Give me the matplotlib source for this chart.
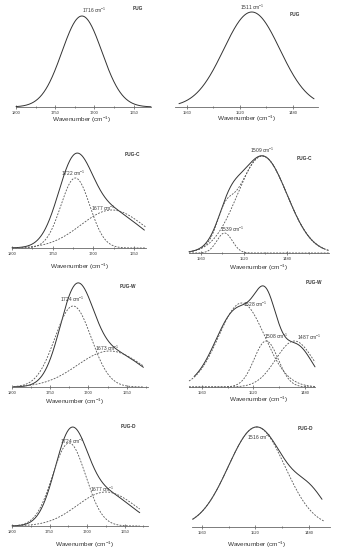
import numpy as np
import matplotlib
matplotlib.use('Agg')
import matplotlib.pyplot as plt
from matplotlib.ticker import MultipleLocator, FixedLocator

plt.rcParams['font.family'] = ['Liberation Sans', 'DejaVu Sans']
plt.rcParams['mathtext.fontset'] = 'custom'
plt.rcParams['mathtext.rm'] = 'Liberation Sans'
plt.rcParams['mathtext.it'] = 'Liberation Sans:italic'
plt.rcParams['mathtext.bf'] = 'Liberation Sans:bold'

W, H = 337, 550

# ---------------- data (bands: centre cm-1, FWHM cm-1, height a.u.) ----------------
sample_names = ['PUG', 'PUG', 'PUG-C', 'PUG-C', 'PUG-W', 'PUG-W', 'PUG-D', 'PUG-D']

# measured traces (solid lines) described by their band shapes and their spectral extent
pug_co_spectrum = [(1716, 60, 91)]
pug_co_range = (1800, 1628)
pug_nh_spectrum = [(1511, 50, 95)]
pug_nh_range = (1566, 1464)

pugc_co_spectrum = [(1723, 48, 76), (1680, 84, 37)]
pugc_co_range = (1800, 1637)
pugc_nh_spectrum = [(1503, 54, 97), (1534, 24, 24)]
pugc_nh_range = (1571, 1446)

pugw_co_spectrum = [(1716, 50, 88), (1668, 90, 34)]
pugw_co_range = (1798, 1628)
pugw_nh_spectrum = [(1532, 40, 78), (1510, 20, 60), (1486, 28, 40)]
pugw_nh_range = (1566, 1472)

pugd_co_spectrum = [(1722, 50, 86), (1675, 80, 32)]
pugd_co_range = (1800, 1630)
pugd_nh_spectrum = [(1519, 50, 100), (1478, 28, 26)]
pugd_nh_range = (1567, 1470)

# fitted components (dashed lines)
pug_co_fit = []
pug_nh_fit = []
pugc_co_fit = [(1722, 42, 70), (1677, 90, 38)]
pugc_nh_fit = [(1538, 17, 20), (1503, 54, 97)]
pugw_co_fit = [(1720, 56, 81), (1672, 100, 36)]
pugw_nh_fit = [(1529, 42, 84), (1510, 22, 46), (1488, 34, 46)]
pugd_co_fit = [(1724, 52, 83), (1675, 90, 34)]
pugd_nh_fit = [(1519, 50, 100)]

# labelled band positions (cm-1)
pug_co_labels = [1716]
pug_nh_labels = [1511]
pugc_co_labels = [1722, 1677]
pugc_nh_labels = [1509, 1539]
pugw_co_labels = [1724, 1673]
pugw_nh_labels = [1528, 1508, 1487]
pugd_co_labels = [1724, 1677]
pugd_nh_labels = [1516]

# ---------------- layout (pixels) ----------------
layout = [
    dict(x0=16, x1=151, yb=107, xlim=(1800, 1628), fit_range=None),
    dict(x0=175, x1=318, yb=107, xlim=(1569, 1461), fit_range=None),
    dict(x0=12, x1=146, yb=248, xlim=(1800, 1635), fit_range=(1800, 1635)),
    dict(x0=189, x1=329, yb=253, xlim=(1571, 1441), fit_range=(1571, 1441)),
    dict(x0=12, x1=148, yb=387, xlim=(1800, 1622), fit_range=(1798, 1628)),
    dict(x0=189, x1=315, yb=387, xlim=(1570, 1472), fit_range=(1570, 1472)),
    dict(x0=12, x1=148, yb=526, xlim=(1800, 1619), fit_range=(1800, 1630)),
    dict(x0=192, x1=330, yb=527, xlim=(1567.5, 1464), fit_range=(1567, 1468)),
]
name_pos = [(138, 8), (295, 14), (132, 154), (304, 159), (128, 286), (314, 282), (128, 427), (305, 429)]
label_pos = [
    [(94, 10)],
    [(252, 7)],
    [(73, 173), (103, 208)],
    [(262, 150), (232, 229)],
    [(72, 299), (107, 348)],
    [(255, 304), (276, 336), (309, 337)],
    [(72, 441), (102, 489)],
    [(259, 437)],
]
xlabel_pos = [(82, 120), (247, 119), (80, 267), (259, 268), (75, 402), (259, 400), (85, 545), (257, 545)]

spectra = [pug_co_spectrum, pug_nh_spectrum, pugc_co_spectrum, pugc_nh_spectrum,
           pugw_co_spectrum, pugw_nh_spectrum, pugd_co_spectrum, pugd_nh_spectrum]
ranges = [pug_co_range, pug_nh_range, pugc_co_range, pugc_nh_range,
          pugw_co_range, pugw_nh_range, pugd_co_range, pugd_nh_range]
fits = [pug_co_fit, pug_nh_fit, pugc_co_fit, pugc_nh_fit,
        pugw_co_fit, pugw_nh_fit, pugd_co_fit, pugd_nh_fit]
labels = [pug_co_labels, pug_nh_labels, pugc_co_labels, pugc_nh_labels,
          pugw_co_labels, pugw_nh_labels, pugd_co_labels, pugd_nh_labels]
envelope = [False, False, False, True, False, False, False, False]


def band(x, c, w, h):
    return h * np.exp(-4 * np.log(2) * (x - c) ** 2 / w ** 2)


def profile(x, bands):
    y = np.zeros_like(x)
    for c, w, h in bands:
        y += band(x, c, w, h)
    return y


AXH = 105
LINE = '#333333'
DASH = '#555555'
TXT = '#333333'

fig = plt.figure(figsize=(W / 100, H / 100), dpi=100)
fig.patch.set_facecolor('white')

for i in range(8):
    L = layout[i]
    ax = fig.add_axes([L['x0'] / W, 1 - L['yb'] / H, (L['x1'] - L['x0']) / W, AXH / H])
    ax.set_xlim(*L['xlim'])
    ax.set_ylim(0, AXH)
    for s in ['left', 'right', 'top']:
        ax.spines[s].set_visible(False)
    ax.spines['bottom'].set_color('#666666')
    ax.spines['bottom'].set_linewidth(0.6)
    ax.set_yticks([])
    ax.patch.set_alpha(0)
    if i % 2 == 0:
        ax.xaxis.set_major_locator(FixedLocator([1800, 1750, 1700, 1650]))
        ax.xaxis.set_minor_locator(MultipleLocator(25))
    else:
        ax.xaxis.set_major_locator(FixedLocator([1560, 1520, 1480]))
        ax.xaxis.set_minor_locator(MultipleLocator(20))
    ax.tick_params(axis='x', which='major', direction='inout', length=2.5, width=0.5,
                   colors='#555555', labelsize=2.9, pad=1.5, labelcolor=TXT)
    ax.tick_params(axis='x', which='minor', direction='inout', length=2.0, width=0.5,
                   colors='#555555')

    xs = np.linspace(ranges[i][0], ranges[i][1], 400)
    ax.plot(xs, profile(xs, spectra[i]), color=LINE, lw=0.7, solid_capstyle='round', clip_on=False)

    if fits[i]:
        fr = L['fit_range']
        xf = np.linspace(fr[0], fr[1], 400)
        for b in fits[i]:
            ax.plot(xf, band(xf, *b), color=DASH, lw=0.6, ls=(0, (2.2, 1.6)), clip_on=False)
        if envelope[i]:
            ax.plot(xf, profile(xf, fits[i]), color=DASH, lw=0.6, ls=(0, (2.2, 1.6)), clip_on=False)

    fig.text(name_pos[i][0] / W, 1 - name_pos[i][1] / H, sample_names[i], ha='center', va='center',
             fontsize=3.4, fontweight='bold', color=TXT)
    for (px, py), v in zip(label_pos[i], labels[i]):
        fig.text(px / W, 1 - py / H, f'{v} cm$^{{-1}}$', ha='center', va='center',
                 fontsize=3.5, color=TXT)
    fig.text(xlabel_pos[i][0] / W, 1 - xlabel_pos[i][1] / H, 'Wavenumber (cm$^{-1}$)',
             ha='center', va='center', fontsize=4.6, color=TXT)

fig.savefig('out.png', dpi=100, facecolor='white')
